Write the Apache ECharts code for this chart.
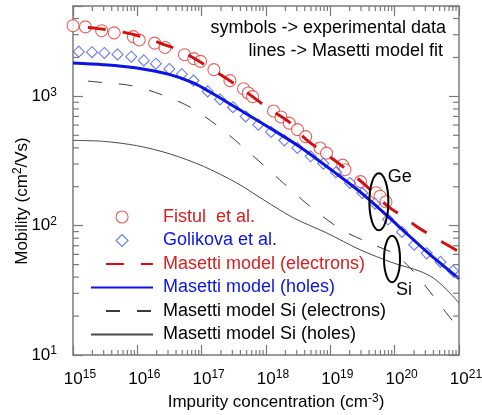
<!DOCTYPE html>
<html>
<head>
<meta charset="utf-8">
<script src="https://cdn.jsdelivr.net/npm/echarts@6/dist/echarts.min.js"></script>
<style>
  html, body { margin: 0; padding: 0; background: #fff; }
  #chart { width: 482px; height: 415px; }
</style>
</head>
<body>
<div id="chart"></div>
<script>
// Fistul et al. (Ge electrons)
var fistulConc = [1.0e15, 1.56e15, 2.79e15, 4.37e15, 8.65e15, 1.07e16, 1.86e16, 2.69e16, 5.41e16, 7.55e16,
  9.6e16, 1.55e17, 2.75e17, 4.47e17, 5.31e17, 6.21e17, 1.31e18, 1.71e18, 2.30e18, 3.09e18,
  4.14e18, 6.92e18, 8.73e18, 1.56e19, 1.69e19, 2.94e19, 5.13e19, 5.92e19, 7.33e19];
var fistulMob = [3520, 3445, 3220, 3100, 2900, 2730, 2580, 2390, 2100, 1960,
  1865, 1610, 1323, 1147, 1062, 995, 771, 693, 621, 553,
  488, 399, 364, 294, 271, 219, 180, 169, 153];

// Golikova et al. (Ge holes)
var golikovaConc = [1.23e15, 1.97e15, 3.07e15, 4.92e15, 8.04e15, 1.26e16, 1.94e16, 3.14e16, 4.90e16, 7.46e16,
  1.24e17, 1.93e17, 3.07e17, 4.84e17, 7.59e17, 1.20e18, 1.93e18, 3.07e18, 4.95e18, 7.78e18,
  1.22e19, 2.02e19, 3.14e19, 4.94e19, 7.89e19, 1.30e20, 2.01e20, 3.15e20, 5.16e20, 8.07e20];
var golikovaMob = [2218, 2198, 2166, 2112, 2028, 1898, 1790, 1629, 1484, 1327,
  1093, 948, 825, 700, 604, 531, 457, 399, 344, 302,
  259, 214, 179, 148, 112, 89.5, 71.3, 61.1, 52.5, 44.7];

// Masetti model, Ge electrons
var geElecConc = [1e15, 2.45e15, 5.98e15, 1.57e16, 2.42e16, 4.60e16, 1.79e17, 4.40e17, 1.07e18, 2.36e18,
  4.19e18, 1.32e19, 3.46e19, 7.60e19, 1.35e20, 2.22e20, 3.94e20, 6.52e20, 1e21];
var geElecMob = [3491, 3342, 3140, 2780, 2543, 2268, 1517, 1127, 813, 627,
  465, 306, 207, 143, 117.5, 98.3, 82.2, 71.3, 62.9];

// Masetti model, Ge holes
var geHoleConc = [1e15, 2.96e15, 9.77e15, 3.22e16, 7.41e16, 1.35e17, 3.51e17, 1.15e18, 3.38e18, 1.11e19,
  3.26e19, 1.08e20, 3.55e20, 1e21];
var geHoleMob = [1811, 1758, 1658, 1472, 1270, 1080, 813, 570, 406, 263,
  174, 102, 59.7, 39];

// Masetti model, Si electrons
var siElecConc = [1e15, 2.79e15, 8.17e15, 2.39e16, 7.00e16, 2.17e17, 6.00e17, 1.86e18, 4.83e18, 1.50e19,
  4.66e19, 1.01e20, 1.73e20, 3.07e20, 7.00e20, 1e21];
var siElecMob = [1345, 1282, 1210, 1031, 813, 546, 354, 214, 141, 93,
  71.3, 60.3, 47.3, 33.7, 19.9, 16.0];

// Masetti model, Si holes
var siHoleConc = [1e15, 2.96e15, 9.77e15, 3.22e16, 1.06e17, 3.51e17, 9.08e17, 2.66e18, 8.77e18, 2.89e19,
  9.53e19, 2.48e20, 3.99e20, 6.44e20, 1e21];
var siHoleMob = [457, 449, 416, 359, 288, 214, 159, 115, 87.9, 65.2,
  51.5, 44.4, 39.4, 32.0, 25.2];

// ellipse annotations [concentration, mobility]
var geMark = [5.68e19, 153];
var siMark = [9.1e19, 55.2];

var xRange = [1e15, 1e21];
var yRange = [10, 5000];
var legendNames = ['Fistul  et al.', 'Golikova et al.', 'Masetti model (electrons)',
  'Masetti model (holes)', 'Masetti model Si (electrons)', 'Masetti model Si (holes)'];

var FONT = "'Liberation Sans', Arial, Helvetica, sans-serif";
var RED = '#d81e1e';
var BLUE = '#0a14e6';
var AXIS = '#7a7a7a';

function pairs(xs, ys) {
  return xs.map(function (x, i) { return [x, ys[i]]; });
}

function powLabel(v) {
  var e = Math.round(Math.log10(v));
  if (Math.abs(v / Math.pow(10, e) - 1) > 1e-6) return '';
  return '{b|10}{s|' + e + '}';
}

var labelRich = {
  b: { fontSize: 17, lineHeight: 20, fontFamily: FONT, color: '#000' },
  s: { fontSize: 12, lineHeight: 6, verticalAlign: 'top', fontFamily: FONT, color: '#000' }
};
var nameRich = {
  a: { fontSize: 17, lineHeight: 20, fontFamily: FONT, color: '#000' },
  s: { fontSize: 12, lineHeight: 6, verticalAlign: 'top', fontFamily: FONT, color: '#000' }
};

// minor tick values (2..9 per decade)
var xMinor = [], yMinor = [];
for (var e = 15; e < 21; e++) for (var m = 2; m < 10; m++) xMinor.push(m * Math.pow(10, e));
for (var e2 = 1; e2 < 4; e2++) for (var m2 = 2; m2 < 10; m2++) {
  if (m2 * Math.pow(10, e2) < yRange[1]) yMinor.push(m2 * Math.pow(10, e2));
}

function logAxis(range, extra) {
  var a = {
    type: 'log',
    logBase: 10,
    min: range[0],
    max: range[1],
    axisLine: { show: true, onZero: false, lineStyle: { color: AXIS, width: 1.5 } },
    axisTick: { show: true, inside: true, length: 10, lineStyle: { color: AXIS, width: 1.2 } },
    splitLine: { show: false },
    minorTick: { show: false }
  };
  for (var k in extra) a[k] = extra[k];
  return a;
}

var legendText = { fontSize: 18, fontFamily: FONT };
var hideSym = { opacity: 0 };

var chart = echarts.init(document.getElementById('chart'));

chart.setOption({
  animation: false,
  backgroundColor: '#fff',
  grid: { left: 73, right: 23, top: 6, bottom: 60, outerBoundsMode: 'none' },
  xAxis: [
    logAxis(xRange, {
      position: 'bottom',
      name: '{a|Impurity concentration (cm}{s|-3}{a|)}',
      nameLocation: 'middle',
      nameGap: 34,
      nameTextStyle: { padding: [0, 0, 0, 20], rich: nameRich },
      axisLabel: { margin: 14, padding: [0, 0, 0, 14], formatter: powLabel, rich: labelRich }
    }),
    logAxis(xRange, { position: 'top', axisLabel: { show: false } })
  ],
  yAxis: [
    logAxis(yRange, {
      position: 'left',
      axisLabel: { margin: 16, formatter: powLabel, rich: labelRich }
    }),
    logAxis(yRange, { position: 'right', axisLabel: { show: false } })
  ],
  legend: [
    {
      // symbols
      orient: 'vertical', left: 110.5, top: 203, itemWidth: 12, itemHeight: 12, itemGap: 5.5,
      selectedMode: false, textStyle: legendText,
      itemStyle: { borderWidth: 1.1 },
      data: [
        { name: legendNames[0], textStyle: { color: RED, padding: [0, 0, 0, 30] } },
        { name: legendNames[1], textStyle: { color: BLUE, padding: [0, 0, 0, 30] } }
      ]
    },
    {
      // lines
      orient: 'vertical', left: 85, top: 250, itemWidth: 62, itemHeight: 12, itemGap: 5.5,
      selectedMode: false, textStyle: legendText,
      data: [
        { name: legendNames[2], itemStyle: hideSym, textStyle: { color: RED, padding: [0, 0, 0, 5] } },
        { name: legendNames[3], itemStyle: hideSym, textStyle: { color: BLUE, padding: [0, 0, 0, 5] } },
        { name: legendNames[4], itemStyle: hideSym, textStyle: { color: '#000', padding: [0, 0, 0, 5] } },
        { name: legendNames[5], itemStyle: hideSym, textStyle: { color: '#000', padding: [0, 0, 0, 5] } }
      ]
    }
  ],
  series: [
    {
      name: legendNames[5], type: 'line', data: pairs(siHoleConc, siHoleMob),
      symbol: 'none', smooth: 0.3,
      lineStyle: { color: '#4a4a4a', width: 1 }, itemStyle: { color: '#4a4a4a' }
    },
    {
      name: legendNames[4], type: 'line', data: pairs(siElecConc, siElecMob),
      symbol: 'none', smooth: 0.3,
      lineStyle: { color: '#3a3a3a', width: 1, type: [14, 17], dashOffset: 16 }, itemStyle: { color: '#3a3a3a' }
    },
    {
      name: legendNames[2], type: 'line', data: pairs(geElecConc, geElecMob),
      symbol: 'none', smooth: 0.3,
      lineStyle: { color: '#d40f0f', width: 3, type: [18, 17], dashOffset: 20 }, itemStyle: { color: '#d40f0f' }
    },
    {
      name: legendNames[3], type: 'line', data: pairs(geHoleConc, geHoleMob),
      symbol: 'none', smooth: 0.3,
      lineStyle: { color: BLUE, width: 3 }, itemStyle: { color: BLUE }
    },
    {
      name: legendNames[0], type: 'scatter', data: pairs(fistulConc, fistulMob),
      symbol: 'circle', symbolSize: 12, clip: false,
      itemStyle: { color: '#fff', borderColor: '#e03a3a', borderWidth: 1.1 }
    },
    {
      name: legendNames[1], type: 'scatter', data: pairs(golikovaConc, golikovaMob),
      symbol: 'diamond', symbolSize: 11, clip: false,
      itemStyle: { color: '#fff', borderColor: '#4a5af0', borderWidth: 1.1 }
    },
    {
      type: 'custom', silent: true, z: 5,
      data: xMinor.map(function (v) { return [v, yRange[0]]; }),
      renderItem: function (params, api) {
        var cs = params.coordSys;
        var x = api.coord([api.value(0), yRange[0]])[0];
        var st = { stroke: AXIS, lineWidth: 1.2 };
        return { type: 'group', children: [
          { type: 'line', shape: { x1: x, y1: cs.y + cs.height, x2: x, y2: cs.y + cs.height - 5 }, style: st },
          { type: 'line', shape: { x1: x, y1: cs.y, x2: x, y2: cs.y + 5 }, style: st }
        ] };
      }
    },
    {
      type: 'custom', silent: true, z: 5,
      data: yMinor.map(function (v) { return [xRange[0], v]; }),
      renderItem: function (params, api) {
        var cs = params.coordSys;
        var y = api.coord([xRange[0], api.value(1)])[1];
        var st = { stroke: AXIS, lineWidth: 1.2 };
        return { type: 'group', children: [
          { type: 'line', shape: { x1: cs.x, y1: y, x2: cs.x + 6, y2: y }, style: st },
          { type: 'line', shape: { x1: cs.x + cs.width, y1: y, x2: cs.x + cs.width - 6, y2: y }, style: st }
        ] };
      }
    }
  ]
});

// y title, notes and Ge / Si ellipses, placed through the axes
var gePx = chart.convertToPixel({ seriesIndex: 0 }, geMark);
var siPx = chart.convertToPixel({ seriesIndex: 0 }, siMark);
chart.setOption({
  graphic: [
    {
      id: 'yTitle', type: 'text', x: 22, y: 201, rotation: Math.PI / 2,
      style: {
        text: '{a|Mobility (cm}{s|2}{a|/Vs)}', rich: nameRich,
        align: 'center', verticalAlign: 'middle'
      }
    },
    {
      id: 'note1', type: 'text', x: 446, y: 28.5,
      style: { text: 'symbols -> experimental data', font: '18px ' + FONT, fill: '#000', align: 'right', verticalAlign: 'middle' }
    },
    {
      id: 'note2', type: 'text', x: 443, y: 51.5,
      style: { text: 'lines -> Masetti model fit', font: '18px ' + FONT, fill: '#000', align: 'right', verticalAlign: 'middle' }
    },
    {
      id: 'geEll', type: 'ellipse', z: 10,
      shape: { cx: gePx[0], cy: gePx[1], rx: 9.5, ry: 28.5 },
      style: { fill: 'none', stroke: '#000', lineWidth: 2 }
    },
    {
      id: 'geTxt', type: 'text', z: 10, x: gePx[0] + 21, y: gePx[1] - 24.5,
      style: { text: 'Ge', font: '18px ' + FONT, fill: '#000', align: 'center', verticalAlign: 'middle' }
    },
    {
      id: 'siEll', type: 'ellipse', z: 10,
      shape: { cx: siPx[0], cy: siPx[1], rx: 8, ry: 23.3 },
      style: { fill: 'none', stroke: '#000', lineWidth: 2 }
    },
    {
      id: 'siTxt', type: 'text', z: 10, x: siPx[0] + 12, y: siPx[1] + 30.5,
      style: { text: 'Si', font: '18px ' + FONT, fill: '#000', align: 'center', verticalAlign: 'middle' }
    }
  ]
});
</script>
</body>
</html>
